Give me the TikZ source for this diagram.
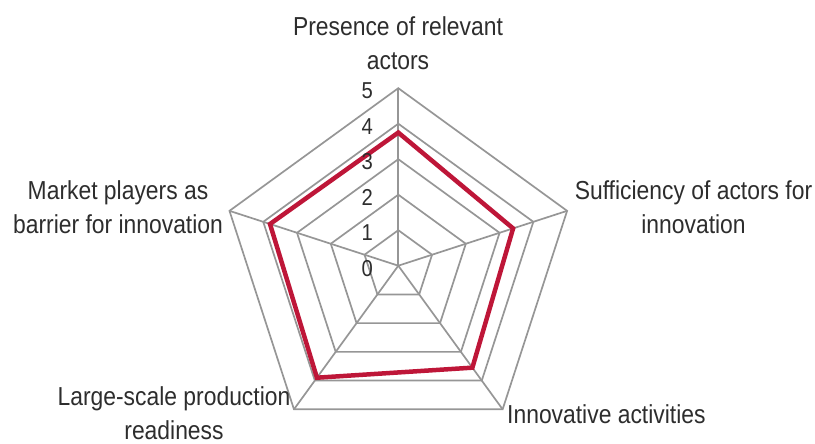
\documentclass[tikz,border=0pt]{standalone}
\usepackage{fontspec}
\setmainfont{Liberation Sans}[FakeStretch=0.88]
\definecolor{gridgray}{RGB}{150,150,150}
\definecolor{seriesred}{RGB}{190,22,56}
\definecolor{textdark}{RGB}{45,45,45}
\begin{document}
\begin{tikzpicture}[x=1pt,y=1pt,
  gridline/.style={draw=gridgray, line width=1.7pt, line join=miter},
  seriesline/.style={draw=seriesred, line width=4.5pt, line join=miter},
  axlabel/.style={font=\fontsize{26}{34}\selectfont, text=textdark, align=center, inner sep=0pt},
  ticklabel/.style={font=\fontsize{23}{23}\selectfont, text=textdark, anchor=east, inner sep=0pt}]
\useasboundingbox (0,0) rectangle (815,-444);
\begin{scope}[shift={(398.3,-265.7)}]
  \coordinate (c) at (0,0);
  \foreach \i/\a in {1/90,2/18,3/-54,4/-126,5/162}{
    \foreach \r in {1,...,5}{
      \coordinate (v\i-\r) at (\a:\r*35.5);
    }
  }
  % data points
  \coordinate (d1) at (90:3.75*35.5);
  \coordinate (d2) at (18:3.4*35.5);
  \coordinate (d3) at (-54:3.55*35.5);
  \coordinate (d4) at (-126:3.9*35.5);
  \coordinate (d5) at (162:3.8*35.5);
\end{scope}
% grid pentagons
\foreach \r in {1,...,5}{
  \draw[gridline] (v1-\r) -- (v2-\r) -- (v3-\r) -- (v4-\r) -- (v5-\r) -- cycle;
}
% spokes
\foreach \i in {1,...,5}{
  \draw[gridline] (c) -- (v\i-5);
}
% series
\draw[seriesline] (d1) -- (d2) -- (d3) -- (d4) -- (d5) -- cycle;
% tick labels
\foreach \r in {0,...,5}{
  \node[ticklabel] (t\r) at (373,{-(265.7-\r*35.5+2.5)}) {\r};
}
% axis labels (anchor base = baseline of last line)
\node[axlabel, anchor=base] (lab1) at (398,-70) {Presence of relevant\\actors};
\node[axlabel, anchor=base] (lab2) at (693.5,-233) {Sufficiency of actors for\\innovation};
\node[axlabel, anchor=base west] (lab3) at (507,-423) {Innovative activities};
\node[axlabel, anchor=base] (lab4) at (174,-439) {Large-scale production\\readiness};
\node[axlabel, anchor=base] (lab5) at (118,-233) {Market players as\\barrier for innovation};
\end{tikzpicture}
\end{document}
